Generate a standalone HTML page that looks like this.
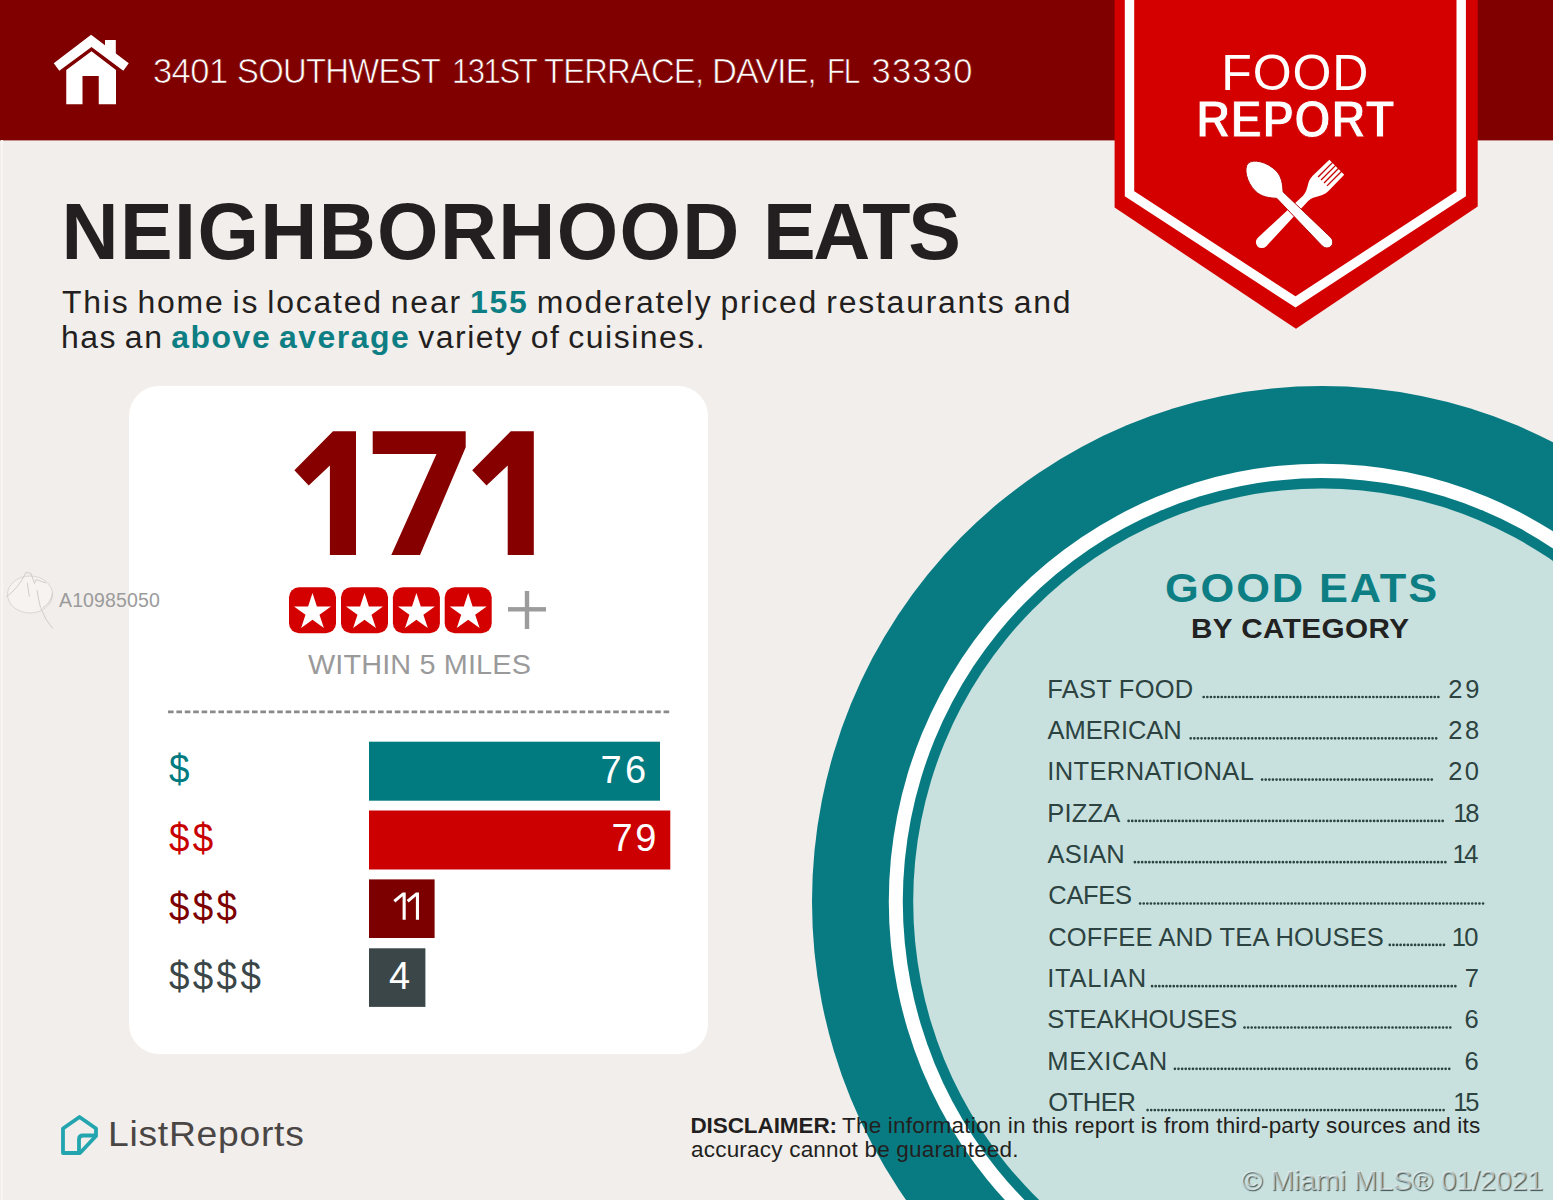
<!DOCTYPE html>
<html>
<head>
<meta charset="utf-8">
<title>Food Report</title>
<style>
html,body{margin:0;padding:0;}
body{width:1553px;height:1200px;overflow:hidden;position:relative;background:#f2eeeb;font-family:"Liberation Sans",sans-serif;}
#art{position:absolute;left:0;top:0;width:1553px;height:1200px;}
.t{position:absolute;white-space:nowrap;line-height:1;margin:0;padding:0;}
</style>
</head>
<body>
<svg id="art" width="1553" height="1200" viewBox="0 0 1553 1200">
  <!-- header -->
  <rect x="0" y="0" width="1553" height="140.4" fill="#800000"/>
  <!-- circle -->
  <ellipse cx="1321.8" cy="901.6" rx="509.8" ry="515.5" fill="#087b82"/>
  <ellipse cx="1321.8" cy="901.6" rx="433" ry="437.9" fill="#ffffff"/>
  <ellipse cx="1321.8" cy="901.6" rx="419" ry="423.5" fill="#087b82"/>
  <ellipse cx="1321.8" cy="901.6" rx="408.6" ry="413.1" fill="#c9e1de"/>
  <!-- faint MLS watermark logo + edge band -->
  <rect x="1" y="140" width="2" height="1060" fill="#f8f5f3"/>
  <g stroke="#cbc8c5" stroke-width="0.9" fill="none">
    <ellipse cx="30" cy="594.5" rx="22.5" ry="18.5" fill="#f6f3f1" stroke="#d6d3d0"/>
    <path d="M6.3,596.7 Q18,589 26,572.3 L31,573.5 L34.5,583.5 L36,579.5 L46,583"/>
    <path d="M27.3,582.7 L29.3,596.7"/>
    <path d="M37,590 Q38.5,600 40.5,607.5 Q45,620 52.7,628.5"/>
    <path d="M52.5,593 Q51,603 42.5,608"/>
  </g>
  <!-- card -->
  <rect x="129" y="386" width="579" height="668" rx="30" ry="30" fill="#ffffff"/>
  <!-- banner -->
  <polygon points="1114.6,0 1477.7,0 1477.7,206.5 1296,328.8 1114.6,207.5" fill="#d40000"/>
  <polyline points="1129.5,0 1129.5,193.75 1295.5,301.9 1461.2,193.75 1461.2,0" fill="none" stroke="#ffffff" stroke-width="9.4"/>

  <!-- house icon -->
  <g fill="#ffffff">
    <polygon points="91.1,34.8 128.75,63.3 123.3,70.7 91.5,47.1 59.3,70.7 53.75,63.3"/>
    <polygon points="105,40 115.8,40 115.8,54 105,46"/>
    <polygon points="91.5,51.25 116,70 116,104.2 98.75,104.2 98.75,76 82.5,76 82.5,104.2 66.25,104.2 66.25,70"/>
  </g>
  <!-- 171 -->
  <g fill="#860000">
    <polygon points="333,431.2 356,431.2 356,555 329.9,555 329.9,465.4 308.7,485.4 294.4,470.3"/>
    <polygon points="372.7,431.2 465.7,431.2 465.7,447.2 420,555 391.3,555 436.5,454.1 372.7,454.1"/>
    <polygon points="510.8,431.2 533.8,431.2 533.8,555 507.7,555 507.7,465.4 486.5,485.4 472.2,470.3"/>
  </g>
  <!-- stars -->
  <g transform="translate(312.5,610.2)">
    <rect x="-23.5" y="-23" width="47" height="46" rx="10" ry="10" fill="#d40000"/>
      <polygon fill="#ffffff" points="0.0,-17.2 4.4,-3.8 18.5,-3.8 7.0,4.5 11.4,17.9 0.0,9.6 -11.4,17.9 -7.0,4.5 -18.5,-3.8 -4.4,-3.8"/>
  </g>
  <g transform="translate(364.5,610.2)">
    <rect x="-23.5" y="-23" width="47" height="46" rx="10" ry="10" fill="#d40000"/>
      <polygon fill="#ffffff" points="0.0,-17.2 4.4,-3.8 18.5,-3.8 7.0,4.5 11.4,17.9 0.0,9.6 -11.4,17.9 -7.0,4.5 -18.5,-3.8 -4.4,-3.8"/>
  </g>
  <g transform="translate(416.4,610.2)">
    <rect x="-23.5" y="-23" width="47" height="46" rx="10" ry="10" fill="#d40000"/>
      <polygon fill="#ffffff" points="0.0,-17.2 4.4,-3.8 18.5,-3.8 7.0,4.5 11.4,17.9 0.0,9.6 -11.4,17.9 -7.0,4.5 -18.5,-3.8 -4.4,-3.8"/>
  </g>
  <g transform="translate(468.2,610.2)">
    <rect x="-23.5" y="-23" width="47" height="46" rx="10" ry="10" fill="#d40000"/>
      <polygon fill="#ffffff" points="0.0,-17.2 4.4,-3.8 18.5,-3.8 7.0,4.5 11.4,17.9 0.0,9.6 -11.4,17.9 -7.0,4.5 -18.5,-3.8 -4.4,-3.8"/>
  </g>
  <!-- plus -->
  <rect x="508" y="607.1" width="38" height="4.4" fill="#9c9c9c"/>
  <rect x="524.8" y="591" width="4.4" height="38" fill="#9c9c9c"/>
  <!-- dashed line -->
  <line x1="168" y1="711.9" x2="671" y2="711.9" stroke="#8a8a8a" stroke-width="2.8" stroke-dasharray="5.6 2.8"/>
  <!-- bars -->
  <rect x="369" y="741.7" width="291" height="59" fill="#017b80"/>
  <rect x="369" y="810.5" width="301.3" height="59" fill="#cc0000"/>
  <rect x="369" y="879.4" width="65.6" height="58.6" fill="#7d0000"/>
  <rect x="369" y="948.3" width="56.4" height="58.6" fill="#3b4648"/>

  <!-- fork & spoon -->
  <g transform="translate(1297.1,206.9) rotate(45)">
    <path fill="#ffffff" d="M-10.5,-56.1 L10.5,-56.1 L11,-33 C11,-24 4.2,-21 3.6,-12 L6,49.5 A6,6.4 0 0 1 -6,49.5 L-3.6,-12 C-4.2,-21 -11,-24 -11,-33 Z"/>
    <g stroke="#c40000" stroke-width="1.3">
      <line x1="-6.3" y1="-57" x2="-6.3" y2="-36"/>
      <line x1="-2.1" y1="-57" x2="-2.1" y2="-36"/>
      <line x1="2.1" y1="-57" x2="2.1" y2="-36"/>
      <line x1="6.3" y1="-57" x2="6.3" y2="-36"/>
    </g>
  </g>
  <g transform="translate(1289.7,204.9) rotate(-45)">
    <path fill="#ffffff" stroke="#b80000" stroke-width="0.9" d="M0,-58.8 C6.5,-58.8 14.5,-47 14.5,-34 C14.5,-25.5 9.5,-19.5 4.5,-13.8 L6,52 A6,6.6 0 0 1 -6,52 L-4.5,-13.8 C-9.5,-19.5 -14.5,-25.5 -14.5,-34 C-14.5,-47 -6.5,-58.8 0,-58.8 Z"/>
  </g>
  <!-- "11" in third bar -->
  <g fill="#ffffff">
    <polygon points="402.6,892.4 405.7,892.4 405.7,919.7 402.6,919.7 402.6,896.3 395.3,902.4 393.4,900"/>
    <polygon points="415.9,892.4 419,892.4 419,919.7 415.9,919.7 415.9,896.3 408.6,902.4 406.7,900"/>
  </g>
  <!-- ListReports icon -->
  <g fill="none" stroke="#22a5ae" stroke-width="3.8" stroke-linejoin="round" stroke-linecap="round">
    <polygon points="79.5,1117 96,1128.5 96,1136 80,1153 63,1153 63,1128.5"/>
    <path d="M79,1151 L79,1139.5 Q79,1135.5 83,1135.5 L95,1135.5"/>
  </g>
  <g id="leaders" stroke="#2c4341" stroke-width="2.7" stroke-linecap="round" stroke-dasharray="0.01 3.6">
    <line x1="1203.7" y1="697.0" x2="1438.9" y2="697.0"/>
    <line x1="1190.7" y1="738.3" x2="1438.9" y2="738.3"/>
    <line x1="1262.1" y1="779.6" x2="1434.3" y2="779.6"/>
    <line x1="1128.6" y1="820.9" x2="1445.9" y2="820.9"/>
    <line x1="1134.9" y1="862.2" x2="1446.6" y2="862.2"/>
    <line x1="1140.1" y1="903.5" x2="1485.9" y2="903.5"/>
    <line x1="1389.8" y1="944.9" x2="1444.2" y2="944.9"/>
    <line x1="1152.1" y1="986.2" x2="1457.2" y2="986.2"/>
    <line x1="1244.5" y1="1027.5" x2="1452.6" y2="1027.5"/>
    <line x1="1174.9" y1="1068.8" x2="1452.6" y2="1068.8"/>
    <line x1="1147.6" y1="1110.1" x2="1445.9" y2="1110.1"/>
  </g>
</svg>
<!-- header text -->
<div class="t" style="left:152.9px;top:53.7px;font-size:34.5px;color:#ffffff;letter-spacing:-0.47px;-webkit-text-stroke:0.7px #800000;">3401</div>
<div class="t" style="left:236.7px;top:53.7px;font-size:34.5px;color:#ffffff;letter-spacing:-0.73px;-webkit-text-stroke:0.7px #800000;transform-origin:0 0;transform:scaleX(0.95);">SOUTHWEST</div>
<div class="t" style="left:451.7px;top:53.7px;font-size:34.5px;color:#ffffff;letter-spacing:-1.63px;-webkit-text-stroke:0.7px #800000;transform-origin:0 0;transform:scaleX(0.9);">131ST</div>
<div class="t" style="left:544.4px;top:53.7px;font-size:34.5px;color:#ffffff;letter-spacing:-0.86px;-webkit-text-stroke:0.7px #800000;transform-origin:0 0;transform:scaleX(0.95);">TERRACE,</div>
<div class="t" style="left:712.1px;top:53.7px;font-size:34.5px;color:#ffffff;letter-spacing:-1.14px;-webkit-text-stroke:0.7px #800000;">DAVIE,</div>
<div class="t" style="left:827.2px;top:53.7px;font-size:34.5px;color:#ffffff;letter-spacing:-1.5px;-webkit-text-stroke:0.7px #800000;transform-origin:0 0;transform:scaleX(0.86);">FL</div>
<div class="t" style="left:871.6px;top:53.7px;font-size:34.5px;color:#ffffff;letter-spacing:1.2px;-webkit-text-stroke:0.7px #800000;">33330</div>
<div class="t" style="left:1221.2px;top:48.1px;font-size:50px;color:#ffffff;letter-spacing:0.9px;">FOOD</div>
<div class="t" style="left:1195.8px;top:93.8px;font-size:51px;color:#ffffff;letter-spacing:0.2px;font-weight:bold;transform-origin:0 0;transform:scaleX(0.93);-webkit-text-stroke:0.9px #d40000;">REPORT</div>
<!-- title -->
<div class="t" style="left:61.6px;top:191.5px;font-size:79px;color:#231f20;letter-spacing:1.37px;font-weight:bold;">NEIGHBORHOOD</div>
<div class="t" style="left:763.0px;top:191.5px;font-size:79px;color:#231f20;letter-spacing:-2.33px;font-weight:bold;">EATS</div>
<div class="t" style="left:61.5px;top:287.2px;font-size:31px;color:#231f20;letter-spacing:1.73px;word-spacing:-2.5px;transform-origin:0 0;transform:scaleX(1.03);">This home is located near <b style="color:#0d7f84">155</b> moderately priced restaurants and</div>
<div class="t" style="left:60.5px;top:322.3px;font-size:31px;color:#231f20;letter-spacing:1.48px;word-spacing:-2.5px;transform-origin:0 0;transform:scaleX(1.03);">has an <b style="color:#0d7f84">above average</b> variety of cuisines.</div>
<!-- card text -->
<div class="t" style="left:308.0px;top:651.3px;font-size:28px;color:#9a9a9a;letter-spacing:0.13px;transform-origin:0 0;transform:scaleX(1.03);">WITHIN 5 MILES</div>
<div class="t" style="left:168.7px;top:749.4px;font-size:40px;color:#017b80;letter-spacing:3.63px;transform-origin:0 0;transform:scaleX(0.92);">$</div>
<div class="t" style="left:168.7px;top:818.2px;font-size:40px;color:#c80000;letter-spacing:3.63px;transform-origin:0 0;transform:scaleX(0.92);">$$</div>
<div class="t" style="left:168.7px;top:887.0px;font-size:40px;color:#7d0000;letter-spacing:3.63px;transform-origin:0 0;transform:scaleX(0.92);">$$$</div>
<div class="t" style="left:168.7px;top:955.8px;font-size:40px;color:#3b4648;letter-spacing:3.63px;transform-origin:0 0;transform:scaleX(0.92);">$$$$</div>
<div class="t" style="left:600.6px;top:750.5px;font-size:38px;color:#ffffff;letter-spacing:3.3px;">76</div>
<div class="t" style="left:611.5px;top:818.7px;font-size:38px;color:#ffffff;letter-spacing:2.5px;">79</div>
<div class="t" style="left:388.9px;top:956.9px;font-size:38px;color:#ffffff;">4</div>
<!-- good eats -->
<div class="t" style="left:1164.8px;top:567.7px;font-size:40.5px;color:#0d7f84;letter-spacing:1.79px;font-weight:bold;transform-origin:0 0;transform:scaleX(1.07);">GOOD EATS</div>
<div class="t" style="left:1190.8px;top:613.7px;font-size:28.5px;color:#222222;letter-spacing:0.43px;font-weight:bold;transform-origin:0 0;transform:scaleX(1.04);">BY CATEGORY</div>
<div class="t" style="left:1047.3px;top:676.7px;font-size:25.5px;color:#2c4341;letter-spacing:0.23px;">FAST FOOD</div>
<div class="t" style="left:1448.2px;top:676.7px;font-size:25.5px;color:#2c4341;letter-spacing:2.8px;">29</div>
<div class="t" style="left:1047.5px;top:718.0px;font-size:25.5px;color:#2c4341;letter-spacing:-0.06px;">AMERICAN</div>
<div class="t" style="left:1448.2px;top:718.0px;font-size:25.5px;color:#2c4341;letter-spacing:2.6px;">28</div>
<div class="t" style="left:1047.3px;top:759.3px;font-size:25.5px;color:#2c4341;letter-spacing:0.37px;">INTERNATIONAL</div>
<div class="t" style="left:1448.2px;top:759.3px;font-size:25.5px;color:#2c4341;letter-spacing:2.3px;">20</div>
<div class="t" style="left:1047.3px;top:800.6px;font-size:25.5px;color:#2c4341;letter-spacing:0.2px;">PIZZA</div>
<div class="t" style="left:1453.2px;top:800.6px;font-size:25.5px;color:#2c4341;letter-spacing:-2.2px;">18</div>
<div class="t" style="left:1047.5px;top:841.9px;font-size:25.5px;color:#2c4341;letter-spacing:0.18px;">ASIAN</div>
<div class="t" style="left:1452.6px;top:841.9px;font-size:25.5px;color:#2c4341;letter-spacing:-2.5px;">14</div>
<div class="t" style="left:1048.3px;top:883.3px;font-size:25.5px;color:#2c4341;letter-spacing:-0.32px;">CAFES</div>
<div class="t" style="left:1048.3px;top:924.6px;font-size:25.5px;color:#2c4341;letter-spacing:0.15px;">COFFEE AND TEA HOUSES</div>
<div class="t" style="left:1451.7px;top:924.6px;font-size:25.5px;color:#2c4341;letter-spacing:-1.7px;">10</div>
<div class="t" style="left:1047.3px;top:965.9px;font-size:25.5px;color:#2c4341;letter-spacing:0.73px;">ITALIAN</div>
<div class="t" style="left:1464.8px;top:965.9px;font-size:25.5px;color:#2c4341;">7</div>
<div class="t" style="left:1047.3px;top:1007.2px;font-size:25.5px;color:#2c4341;letter-spacing:-0.13px;">STEAKHOUSES</div>
<div class="t" style="left:1464.5px;top:1007.2px;font-size:25.5px;color:#2c4341;">6</div>
<div class="t" style="left:1047.3px;top:1048.5px;font-size:25.5px;color:#2c4341;letter-spacing:0.6px;">MEXICAN</div>
<div class="t" style="left:1464.5px;top:1048.5px;font-size:25.5px;color:#2c4341;">6</div>
<div class="t" style="left:1048.3px;top:1089.8px;font-size:25.5px;color:#2c4341;letter-spacing:-0.42px;">OTHER</div>
<div class="t" style="left:1453.2px;top:1089.8px;font-size:25.5px;color:#2c4341;letter-spacing:-2.2px;">15</div>
<!-- footer -->
<div class="t" style="left:690.4px;top:1115.4px;font-size:22.5px;color:#231f20;letter-spacing:-0.08px;font-weight:bold;">DISCLAIMER:</div>
<div class="t" style="left:842.0px;top:1115.4px;font-size:22.5px;color:#231f20;letter-spacing:0.2px;">The information in this report is from third-party sources and its</div>
<div class="t" style="left:691.0px;top:1138.9px;font-size:22.5px;color:#231f20;letter-spacing:0.21px;">accuracy cannot be guaranteed.</div>
<div class="t" style="left:107.5px;top:1116.5px;font-size:35.5px;color:#4a4645;letter-spacing:0.69px;transform-origin:0 0;transform:scaleX(1.05);">ListReports</div>
<div class="t" style="left:59.0px;top:591.0px;font-size:19.5px;color:#9b9b9b;letter-spacing:0.12px;">A10985050</div>
<div class="t" style="left:1241.4px;top:1166.2px;font-size:28.5px;color:rgba(245,248,248,0.6);letter-spacing:-0.09px;text-shadow:1px 1px 1px rgba(40,60,60,0.85);">© Miami MLS® 01/2021</div>
</body>
</html>
